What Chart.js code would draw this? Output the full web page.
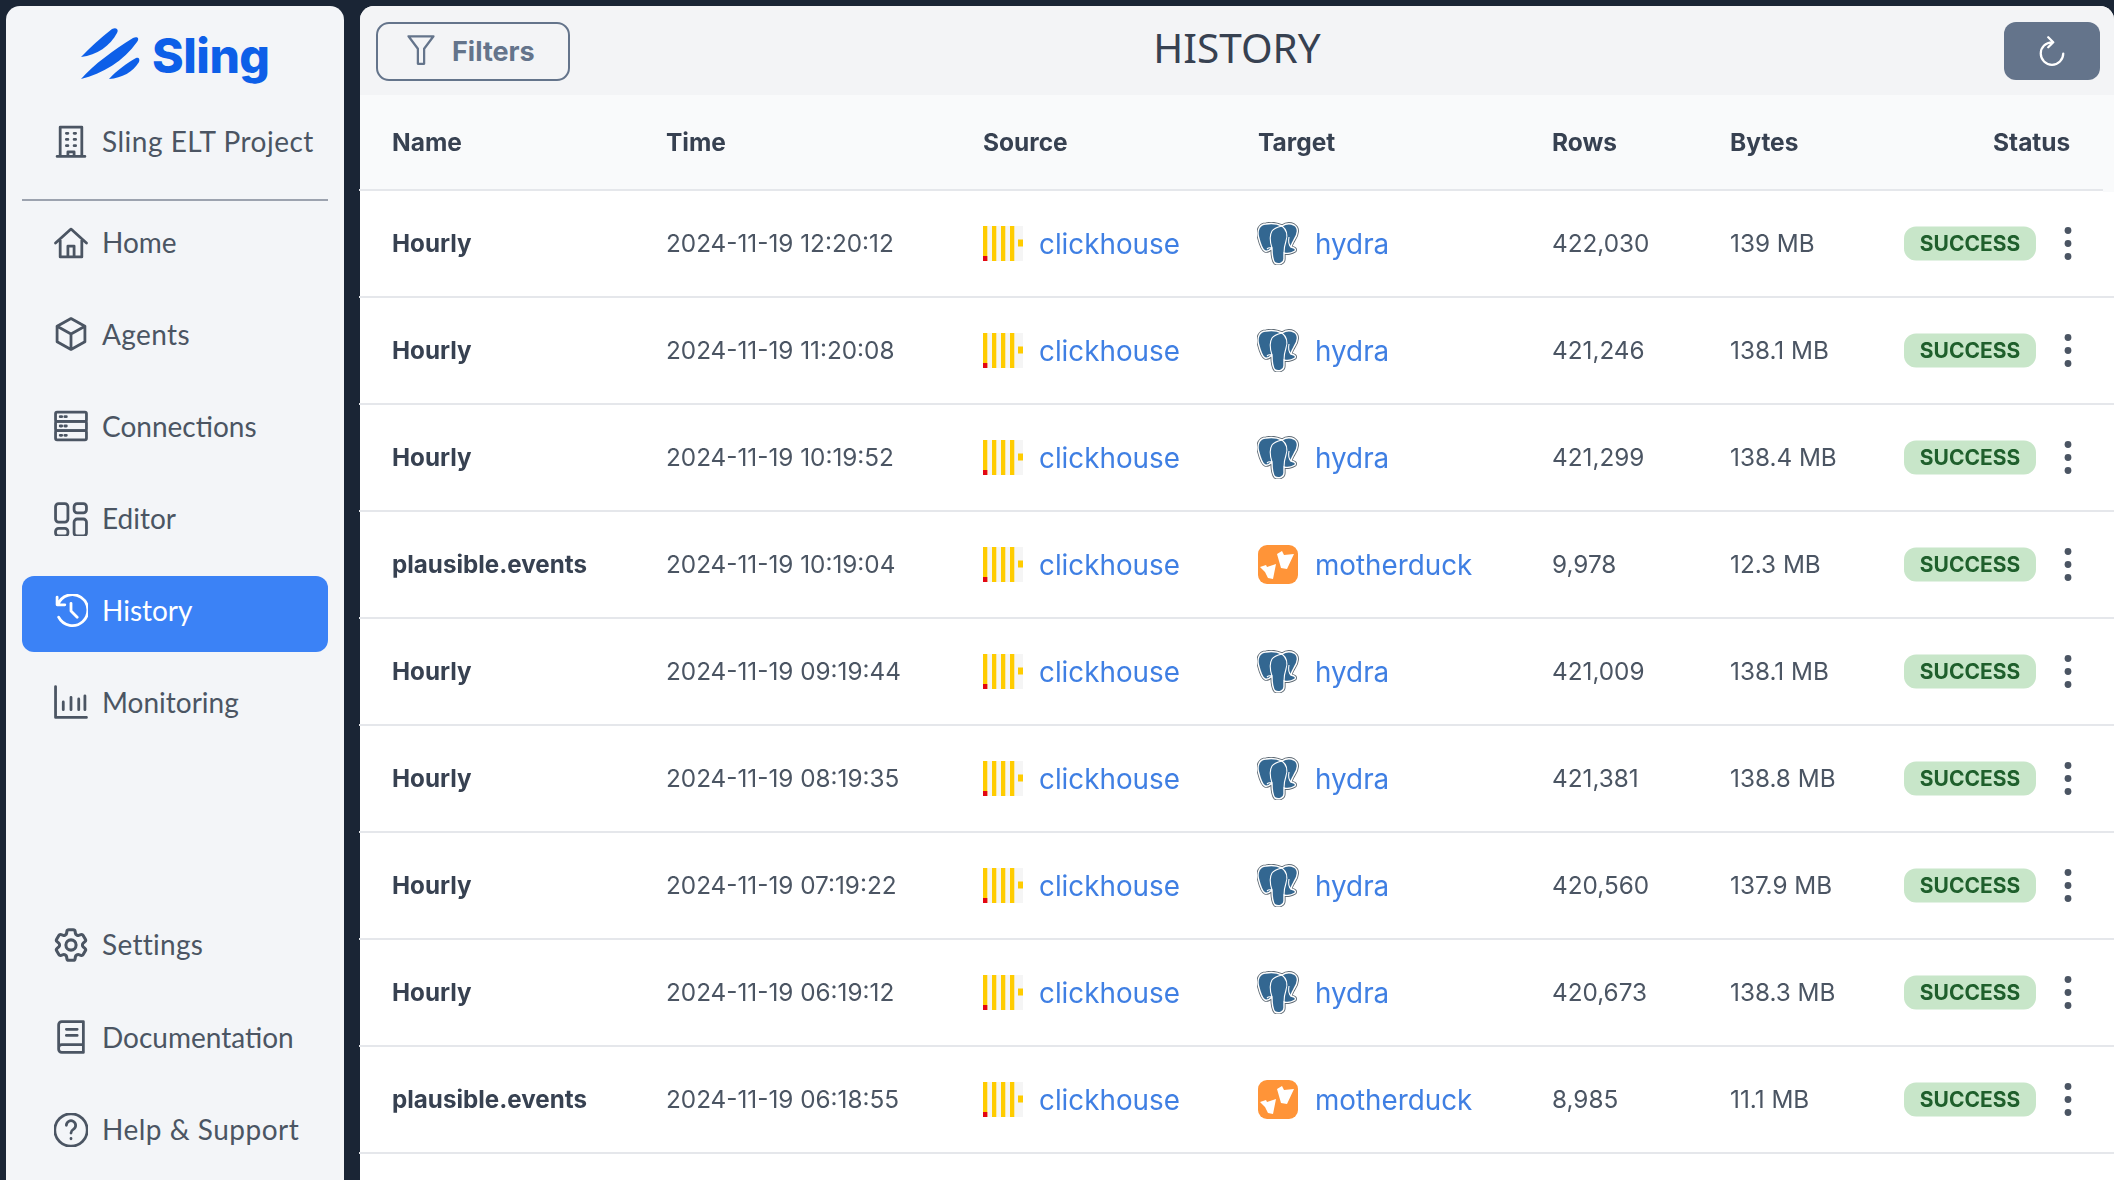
<!DOCTYPE html>
<html>
<head>
<meta charset="utf-8">
<title>History</title>
<script src="https://cdn.jsdelivr.net/npm/chart.js@4"></script>
<style>
  html, body { margin: 0; padding: 0; width: 2114px; height: 1180px; overflow: hidden; background: #1a2535; }
  body { position: relative; font-family: Inter, sans-serif; }
  #sidebar { position: absolute; left: 6px; top: 6px; width: 338px; height: 1180px; background: #f3f5f8; border-radius: 14px 14px 0 0; }
  #main { position: absolute; left: 360px; top: 6px; width: 1754px; height: 1180px; background: #fff; border-radius: 14px 14px 0 0; overflow: hidden; }
  #topbar { position: absolute; left: 0; top: 0; right: 0; height: 89px; background: #f3f4f6; }
  #thead { position: absolute; left: 0; top: 89px; right: 0; height: 95px; background: #f9fafb; }
  #table { position: absolute; left: 359px; top: 95px; }
  .abs { position: absolute; }
  .item { position: absolute; left: 96px; font: 400 28px/36px Lato, sans-serif; color: #4b5563; white-space: nowrap; }
  .ic { position: absolute; left: 48px; width: 34px; height: 34px; margin-top: -1px; fill: none; stroke: #4b5563; stroke-width: 1.8; stroke-linecap: round; stroke-linejoin: round; }
  #pill { position: absolute; left: 16px; top: 570px; width: 306px; height: 76px; background: #3b82f6; border-radius: 12px; }
  #divider { position: absolute; left: 16px; top: 193px; width: 306px; height: 2px; background: #9ca3af; }
  #logoText { position: absolute; left: 146px; top: 19px; font: 800 48px/62px Inter, sans-serif; color: #0d5fe8; letter-spacing: -0.5px; }
  #filters { position: absolute; left: 16px; top: 16px; width: 190px; height: 55px; border: 2px solid #64748b; border-radius: 13px; }
  #filters span { position: absolute; left: 74px; top: 0; font: 700 27px/55px Inter, sans-serif; color: #64748b; }
  #title { position: absolute; left: 0; right: 0; top: 17px; text-align: center; margin-left: -364px; padding-left: 364px; font: 400 40.5px/50px "Noto Sans", sans-serif; color: #374151; }
  #refresh { position: absolute; left: 1644px; top: 16px; width: 96px; height: 58px; background: #64748b; border-radius: 12px; }
</style>
</head>
<body>
<div id="sidebar">
  <svg class="abs" style="left:74px;top:22px" width="62" height="52" viewBox="0 0 62 52" fill="#0d5fe8">
    <path d="M1 29 C10 20 20 10 32 1 C36 -1 39 1 37 5 C30 18 17 27 1 29 Z"/>
    <path d="M1 51 C14 36 34 22 53 10 C57 8 60 10 57 14 C44 33 22 46 1 51 Z"/>
    <path d="M29 51 C36 43 47 35 56 30 C59 29 60 31 59 34 C53 44 42 50 29 51 Z"/>
  </svg>
  <div id="logoText">Sling</div>
  <div id="divider"></div>
  <div id="pill"></div>
  <svg class="ic" style="top:119px" viewBox="1 1 22 22"><path d="M5 22V3h14v19M3 22h18M9 7h1M14 7h1M9 11h1M14 11h1M9 15h1M14 15h1M10 22v-3h4v3"/></svg>
  <div class="item" style="top:117px;letter-spacing:.5px">Sling ELT Project</div>
  <svg class="ic" style="top:221px" viewBox="1 1 22 22"><path d="M2 12 12 3l10 9M5 10v11h14V10M10 21v-7h4v7"/></svg>
  <div class="item" style="top:218px">Home</div>
  <svg class="ic" style="top:312px" viewBox="1 1 22 22"><path d="M12 2l9 5v10l-9 5-9-5V7zM3 7l9 5 9-5M12 12v10"/></svg>
  <div class="item" style="top:310px;letter-spacing:.4px">Agents</div>
  <svg class="ic" style="top:404px" viewBox="1 1 22 22"><rect x="2" y="3" width="20" height="6" rx="1"/><rect x="2" y="9" width="20" height="6" rx="1"/><rect x="2" y="15" width="20" height="6" rx="1"/><path d="M5 6h1M8 6h1M5 12h1M8 12h1M5 18h1M8 18h1"/></svg>
  <div class="item" style="top:402px">Connections</div>
  <svg class="ic" style="top:497px" viewBox="1 1 22 22"><rect x="2" y="2" width="8" height="12" rx="2"/><rect x="14" y="2" width="8" height="6" rx="2"/><rect x="2" y="18" width="8" height="5" rx="2"/><rect x="14" y="12" width="8" height="11" rx="2"/></svg>
  <div class="item" style="top:494px">Editor</div>
  <svg class="ic" style="top:589px;stroke:#fff" viewBox="1 1 22 22"><path d="M3 3v5h5M3.5 8A10 10 0 1 1 4 16M12 7v5l4 4"/></svg>
  <div class="item" style="top:586px;color:#fff">History</div>
  <svg class="ic" style="top:680px" viewBox="1 1 22 22"><path d="M2 2v20h20M7 17v-5M12 17V9M17 17v-7M21 17V8"/></svg>
  <div class="item" style="top:678px">Monitoring</div>
  <svg class="ic" style="top:923px" viewBox="2 2 20 20"><path d="M9.594 3.94c.09-.542.56-.94 1.11-.94h2.593c.55 0 1.02.398 1.11.94l.213 1.281c.063.374.313.686.645.87.074.04.147.083.22.127.324.196.72.257 1.075.124l1.217-.456a1.125 1.125 0 011.37.49l1.296 2.247a1.125 1.125 0 01-.26 1.431l-1.003.827c-.293.24-.438.613-.431.992a6.759 6.759 0 010 .255c-.007.378.138.75.43.99l1.005.828c.424.35.534.954.26 1.43l-1.298 2.247a1.125 1.125 0 01-1.369.491l-1.217-.456c-.355-.133-.75-.072-1.076.124a6.57 6.57 0 01-.22.128c-.331.183-.581.495-.644.869l-.213 1.28c-.09.543-.56.941-1.11.941h-2.594c-.55 0-1.02-.398-1.11-.94l-.213-1.281c-.062-.374-.312-.686-.644-.87a6.52 6.52 0 01-.22-.127c-.325-.196-.72-.257-1.076-.124l-1.217.456a1.125 1.125 0 01-1.369-.49l-1.297-2.247a1.125 1.125 0 01.26-1.431l1.004-.827c.292-.24.437-.613.43-.992a6.932 6.932 0 010-.255c.007-.378-.138-.75-.43-.99l-1.004-.828a1.125 1.125 0 01-.26-1.43l1.297-2.247a1.125 1.125 0 011.37-.491l1.216.456c.356.133.751.072 1.076-.124.072-.044.146-.087.22-.128.332-.183.582-.495.644-.869l.214-1.281z"/><circle cx="12" cy="12" r="3"/></svg>
  <div class="item" style="top:920px;letter-spacing:.3px">Settings</div>
  <svg class="ic" style="top:1015px" viewBox="1 1 22 22"><path d="M4 19V4a2 2 0 0 1 2-2h14v20H6a2 2 0 0 1-2-2v-1a2 2 0 0 1 2-2h14M9 7h7M9 11h7"/></svg>
  <div class="item" style="top:1013px">Documentation</div>
  <svg class="ic" style="top:1108px" viewBox="1 1 22 22"><circle cx="12" cy="12" r="10.5"/><path d="M9 9a3 3 0 1 1 4.5 2.6c-1 .6-1.5 1.2-1.5 2.4M12 17.5v.2"/></svg>
  <div class="item" style="top:1105px;letter-spacing:.5px">Help &amp; Support</div>
</div>
<div id="main">
  <div id="topbar"></div>
  <div id="thead"></div>
  <div id="filters">
    <svg class="abs" style="left:28px;top:9px" width="30" height="34" viewBox="0 0 24 26" fill="none" stroke="#64748b" stroke-width="1.8" stroke-linejoin="round"><path d="M2 2h20l-7.5 10v12h-5V12z"/></svg>
    <span>Filters</span>
  </div>
  <div id="title">HISTORY</div>
  <div id="refresh">
    <svg class="abs" style="left:33px;top:14px" width="30" height="30" viewBox="0 0 24 24" fill="none" stroke="#fff" stroke-width="1.8" stroke-linecap="round" stroke-linejoin="round"><path d="M12 5a9 9 0 1 0 9 9M9 1l4 4-4 4"/></svg>
  </div>
</div>
<canvas id="table" width="1755" height="1085"></canvas>

<script>
const columnHeaders = ['Name', 'Time', 'Source', 'Target', 'Rows', 'Bytes', 'Status'];
const runNames = ['Hourly', 'Hourly', 'Hourly', 'plausible.events', 'Hourly', 'Hourly', 'Hourly', 'Hourly', 'plausible.events'];
const runTimes = [
  '2024-11-19 12:20:12', '2024-11-19 11:20:08', '2024-11-19 10:19:52',
  '2024-11-19 10:19:04', '2024-11-19 09:19:44', '2024-11-19 08:19:35',
  '2024-11-19 07:19:22', '2024-11-19 06:19:12', '2024-11-19 06:18:55',
];
const sourceNames = ['clickhouse', 'clickhouse', 'clickhouse', 'clickhouse', 'clickhouse', 'clickhouse', 'clickhouse', 'clickhouse', 'clickhouse'];
const targetNames = ['hydra', 'hydra', 'hydra', 'motherduck', 'hydra', 'hydra', 'hydra', 'hydra', 'motherduck'];
const rowCounts = [422030, 421246, 421299, 9978, 421009, 421381, 420560, 420673, 8985];
const byteSizes = ['139 MB', '138.1 MB', '138.4 MB', '12.3 MB', '138.1 MB', '138.8 MB', '137.9 MB', '138.3 MB', '11.1 MB'];
const statuses = ['SUCCESS', 'SUCCESS', 'SUCCESS', 'SUCCESS', 'SUCCESS', 'SUCCESS', 'SUCCESS', 'SUCCESS', 'SUCCESS'];

// horizontal layout of the table, in px from the canvas left edge
const headerX = [33, 307, 624, 899, 1193, 1371, 1634];
const cellX = { name: 33, time: 307, sourceIcon: 644, source: 680, targetIcon: 919, target: 956, rows: 1193, bytes: 1371, badge: 1611, menu: 1709 };

const GREY = '#4b5563';
const DARK = '#374151';
const LINK = '#3f7fe3';
const BODY_FONT = '400 24.3px Inter';
const BOLD_FONT = '700 24.2px Inter';
const LINK_FONT = '400 27.8px Inter';

function makeIcon(w, h, draw) {
  const c = document.createElement('canvas');
  c.width = w;
  c.height = h;
  draw(c.getContext('2d'));
  return c;
}

const clickhouseIcon = makeIcon(40, 35, ctx => {
  ctx.fillStyle = '#f5f5f5';
  ctx.fillRect(0, 0, 40, 35);
  ctx.fillStyle = '#fc0';
  [0, 9, 18, 27].forEach(x => ctx.fillRect(x, 0, 4.3, 35));
  ctx.fillRect(35, 13.5, 5, 7);
  ctx.fillStyle = '#e30613';
  ctx.fillRect(0, 30, 4.3, 5);
});

const hydraIcon = makeIcon(42, 43, ctx => {
  const body = new Path2D('M9 2 C2 2 0 9 1.5 15 C3 21 5 28 8 29 C11 30 13 28 15 26 C15 32 15 38 18 41 C22 43 27 41 27 37 L27 31 C30 32 35 31 38 29 C39 27 38 26 34 25 C34 23 35 22 37 18 C41 12 42 6 37 3 C33 1 28 2 25 4 C21 2 14 1 9 2 Z');
  ctx.lineJoin = 'round';
  ctx.strokeStyle = '#5f6b75';
  ctx.lineWidth = 3.2;
  ctx.stroke(body);
  ctx.fillStyle = '#336791';
  ctx.fill(body);
  ctx.strokeStyle = '#fff';
  ctx.lineWidth = 1.4;
  ctx.stroke(body);
  ctx.lineWidth = 1.1;
  ctx.stroke(new Path2D('M15 26 C13 20 12 14 15 9 C17 6 21 5 25 4 M25 4 C30 8 31 13 29 19 C28 22 27 26 27 31 M34 25 C32 23 31 20 32 15 M10 27 C12 25 13 26 15 26'));
});

const duckIcon = makeIcon(40, 39, ctx => {
  ctx.fillStyle = '#ff9438';
  ctx.beginPath();
  ctx.roundRect(0, 0, 40, 39, 9);
  ctx.fill();
  ctx.fillStyle = '#fff';
  ctx.fill(new Path2D('M19 9 L24 6 L26 10 L36 9 L29 24 L23 23 Z'));
  ctx.fill(new Path2D('M2 22 L8 20 L9 22 L18 19 L15 34 L10 33 L7 27 Z'));
});

const targetIcons = { hydra: hydraIcon, motherduck: duckIcon };

function textColumn(key, x, values, font, color, nudge) {
  return {
    label: key,
    data: values.map((v, i) => ({ x: x, y: runTimes[i] })),
    pointRadius: 0,
    cellTexts: values,
    cellFont: font,
    cellColor: color,
    cellNudge: nudge,
  };
}

function iconColumn(key, x, icons) {
  return {
    label: key,
    data: icons.map((v, i) => ({ x: x, y: runTimes[i] })),
    pointStyle: icons,
    pointRadius: 20,
  };
}

const badgeColumn = {
  label: 'status',
  data: statuses.map((v, i) => ({ x: cellX.badge, y: runTimes[i] })),
  pointRadius: 0,
  badgeTexts: statuses,
};

const menuColumn = {
  label: 'menu',
  data: statuses.map((v, i) => ({ x: cellX.menu, y: runTimes[i] })),
  pointRadius: 0,
  isMenu: true,
};

const tableCells = {
  id: 'tableCells',
  afterDatasetsDraw(chart) {
    const ctx = chart.ctx;
    ctx.save();
    chart.data.datasets.forEach((ds, d) => {
      chart.getDatasetMeta(d).data.forEach((pt, i) => {
        if (ds.cellTexts) {
          ctx.font = ds.cellFont;
          ctx.fillStyle = ds.cellColor;
          ctx.textAlign = 'left';
          ctx.textBaseline = 'middle';
          ctx.fillText(ds.cellTexts[i], pt.x, pt.y + ds.cellNudge);
        } else if (ds.badgeTexts) {
          ctx.fillStyle = '#c8e6c9';
          ctx.beginPath();
          ctx.roundRect(pt.x - 66, pt.y - 17, 132, 34, 12);
          ctx.fill();
          ctx.font = '700 21px Inter';
          ctx.fillStyle = '#1f5f2c';
          ctx.textAlign = 'center';
          ctx.textBaseline = 'middle';
          ctx.fillText(ds.badgeTexts[i], pt.x, pt.y + 1);
        } else if (ds.isMenu) {
          ctx.fillStyle = GREY;
          [-13, 0, 13].forEach(dy => {
            ctx.beginPath();
            ctx.arc(pt.x, pt.y + dy, 3.4, 0, Math.PI * 2);
            ctx.fill();
          });
        }
      });
    });
    // the rule under the header stops short of the panel edge
    ctx.fillStyle = '#f9fafb';
    ctx.fillRect(1744, chart.chartArea.top - 2, 11, 4);
    ctx.restore();
  },
};

new Chart(document.getElementById('table'), {
  type: 'scatter',
  data: {
    datasets: [
      textColumn('name', cellX.name, runNames, BOLD_FONT, DARK, 1),
      textColumn('time', cellX.time, runTimes, BODY_FONT, GREY, 1),
      iconColumn('sourceIcon', cellX.sourceIcon, sourceNames.map(() => clickhouseIcon)),
      textColumn('source', cellX.source, sourceNames, LINK_FONT, LINK, 2),
      iconColumn('targetIcon', cellX.targetIcon, targetNames.map(n => targetIcons[n])),
      textColumn('target', cellX.target, targetNames, LINK_FONT, LINK, 2),
      textColumn('rows', cellX.rows, rowCounts.map(n => n.toLocaleString('en-US')), BODY_FONT, GREY, 1),
      textColumn('bytes', cellX.bytes, byteSizes, BODY_FONT, GREY, 1),
      badgeColumn,
      menuColumn,
    ],
  },
  options: {
    responsive: false,
    animation: false,
    devicePixelRatio: 1,
    layout: { autoPadding: false, padding: { bottom: 27 } },
    events: [],
    plugins: { legend: { display: false }, tooltip: { enabled: false } },
    scales: {
      x: {
        type: 'linear',
        position: 'top',
        min: 0,
        max: 1755,
        afterBuildTicks(scale) { scale.ticks = headerX.map(v => ({ value: v })); },
        afterFit(scale) { scale.height = 95; },
        grid: { display: false },
        border: { display: false },
        ticks: {
          autoSkip: false,
          maxRotation: 0,
          align: 'start',
          padding: 24,
          color: DARK,
          font: { family: 'Inter', size: 24.5, weight: '700' },
          callback: (v, i) => columnHeaders[i],
        },
      },
      y: {
        type: 'category',
        labels: runTimes,
        offset: true,
        border: { display: false },
        ticks: { display: false },
        grid: { offset: true, color: '#e5e7eb', lineWidth: 2, drawTicks: false },
      },
    },
  },
  plugins: [tableCells],
});
</script>
</body>
</html>
